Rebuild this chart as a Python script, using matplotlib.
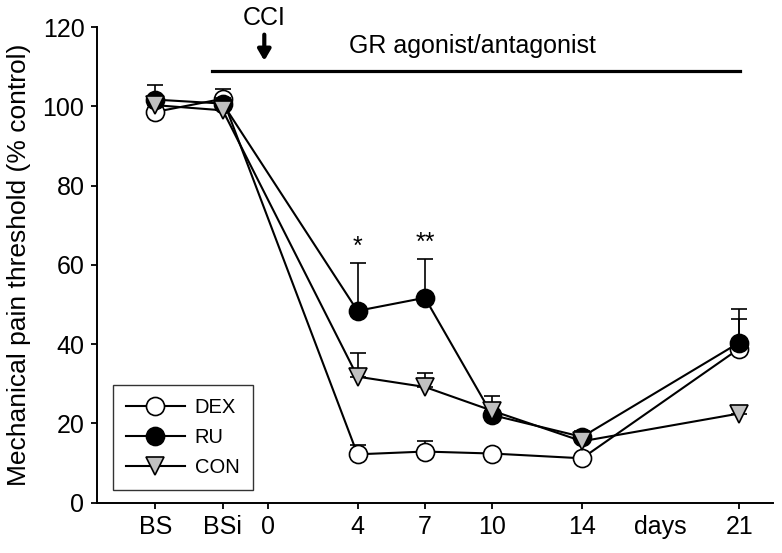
import matplotlib
matplotlib.use('Agg')
import matplotlib.pyplot as plt

plt.rcParams['font.family'] = ['Liberation Sans', 'DejaVu Sans']

# x positions in days (BS and BSi are baseline measurements before CCI)
days = [-5, -2, 4, 7, 10, 14, 21]
tick_pos = [-5, -2, 0, 4, 7, 10, 14, 21]
tick_lab = ['BS', 'BSi', '0', '4', '7', '10', '14', '21']

dex = [98.6, 101.9, 12.2, 12.9, 12.4, 11.2, 38.9]
dex_err = [0.5, 2.6, 2.3, 2.7, 0.5, 0.3, 7.4]
ru = [101.7, 100.7, 48.4, 51.7, 22.1, 16.6, 40.4]
ru_err = [3.8, 1.5, 12.2, 9.9, 1.0, 1.4, 8.4]
con = [100.3, 99.0, 31.8, 29.2, 23.2, 15.5, 22.5]
con_err = [0.8, 0.5, 6.0, 3.6, 3.8, 0.8, 1.5]

fig = plt.figure(figsize=(7.82, 5.53), dpi=100)
ax = fig.add_axes([0.124, 0.091, 0.8645, 0.86])

series = [
    ('DEX', dex, dex_err, 'o', 'white'),
    ('RU', ru, ru_err, 'o', 'black'),
    ('CON', con, con_err, 'v', '#c0c0c0'),
]
z = 3
for name, vals, err, mk, fc in series:
    ax.errorbar(days, vals, yerr=[[0] * len(err), err], fmt='none', ecolor='black',
                elinewidth=1.2, capsize=6, capthick=1.2, zorder=z)
    ax.plot(days, vals, color='black', lw=1.5, marker=mk, ms=13 if mk == 'o' else 13.5,
            mfc=fc, mec='black', mew=1.2, label=name, zorder=z + 1)
    z += 2

# significance marks
ax.text(4, 61.5, '*', ha='center', va='bottom', fontsize=18)
ax.text(7, 62.5, '**', ha='center', va='bottom', fontsize=18)

# treatment period bar and CCI arrow
ax.plot([-2.5, 21.05], [109, 109], color='black', lw=2.3, clip_on=False)
ax.text(9.1, 115.3, 'GR agonist/antagonist', ha='center', va='center', fontsize=18)
ax.text(-0.15, 122.3, 'CCI', ha='center', va='center', fontsize=18, clip_on=False)
ax.annotate('', xy=(-0.15, 110.8), xytext=(-0.15, 118.8),
            arrowprops=dict(arrowstyle='-|>,head_width=0.38,head_length=0.65',
                            color='black', lw=3), annotation_clip=False)

ax.set_xlim(-7.6, 22.5)
ax.set_ylim(0, 120)
ax.set_yticks(range(0, 121, 20))
ax.set_xticks(tick_pos, tick_lab)
ax.set_xticks([17.5], ['days'], minor=True)
ax.tick_params(axis='both', which='major', direction='out', length=4, width=1.3,
               labelsize=18, pad=5)
ax.tick_params(axis='x', which='minor', length=0, pad=9, labelsize=18)
ax.spines['top'].set_visible(False)
ax.spines['right'].set_visible(False)
ax.spines['left'].set_linewidth(1.4)
ax.spines['bottom'].set_linewidth(1.4)
ax.set_ylabel('Mechanical pain threshold (% control)', fontsize=19, labelpad=8)

leg = ax.legend(loc='lower left', bbox_to_anchor=(0.024, 0.027), fontsize=14.5,
                frameon=True, fancybox=False, edgecolor='black', handlelength=2.9,
                borderpad=0.65, labelspacing=0.55, handletextpad=0.5,
                borderaxespad=0)
leg.get_frame().set_linewidth(1.0)

fig.savefig('out.png', dpi=100)
